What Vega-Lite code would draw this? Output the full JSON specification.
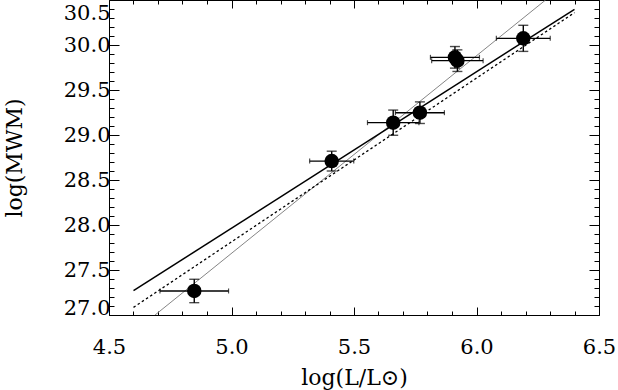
{
  "$schema": "https://vega.github.io/schema/vega-lite/v6.json",
  "width": 490,
  "height": 315,
  "autosize": "none",
  "padding": {"left": 109, "top": 0, "right": 19, "bottom": 75},
  "background": "white",
  "config": {
    "view": {"stroke": null},
    "axis": {
      "labelFont": "DejaVu Serif",
      "titleFont": "DejaVu Serif",
      "labelColor": "black",
      "titleColor": "black",
      "domainColor": "black",
      "domainWidth": 1,
      "tickColor": "black",
      "tickWidth": 1,
      "grid": false,
      "titleFontWeight": "normal",
      "labelFontSize": 21,
      "titleFontSize": 22,
      "labelOverlap": false
    }
  },
  "datasets": {
    "pts": [
      {"x": 4.848, "y": 27.267, "xlo": 4.708, "xhi": 4.988, "ylo": 27.137, "yhi": 27.397},
      {"x": 5.409, "y": 28.71, "xlo": 5.319, "xhi": 5.499, "ylo": 28.6, "yhi": 28.82},
      {"x": 5.66, "y": 29.137, "xlo": 5.555, "xhi": 5.765, "ylo": 28.997, "yhi": 29.277},
      {"x": 5.769, "y": 29.248, "xlo": 5.669, "xhi": 5.869, "ylo": 29.128, "yhi": 29.368},
      {"x": 5.912, "y": 29.863, "xlo": 5.812, "xhi": 6.012, "ylo": 29.743, "yhi": 29.983},
      {"x": 5.922, "y": 29.826, "xlo": 5.817, "xhi": 6.027, "ylo": 29.706, "yhi": 29.946},
      {"x": 6.191, "y": 30.074, "xlo": 6.081, "xhi": 6.301, "ylo": 29.929, "yhi": 30.219}
    ],
    "fits": [
      {"fit": "solid", "x": 4.6, "y": 27.27},
      {"fit": "solid", "x": 6.4, "y": 30.397},
      {"fit": "dotted", "x": 4.6, "y": 27.085},
      {"fit": "dotted", "x": 6.4, "y": 30.36},
      {"fit": "thin", "x": 4.688, "y": 27.0},
      {"fit": "thin", "x": 6.282, "y": 30.5}
    ]
  },
  "layer": [
    {
      "data": {"name": "fits"},
      "transform": [{"filter": "datum.fit === 'thin'"}],
      "mark": {"type": "line", "color": "#777777", "strokeWidth": 0.9, "clip": true},
      "encoding": {
        "x": {"field": "x", "type": "quantitative", "scale": {"domain": [4.5, 6.5], "nice": false, "zero": false}, "axis": null},
        "y": {"field": "y", "type": "quantitative", "scale": {"domain": [27.0, 30.5], "nice": false, "zero": false}, "axis": null}
      }
    },
    {
      "data": {"name": "fits"},
      "transform": [{"filter": "datum.fit === 'dotted'"}],
      "mark": {"type": "line", "color": "black", "strokeWidth": 1.3, "strokeDash": [2.5, 2.5], "clip": true},
      "encoding": {
        "x": {"field": "x", "type": "quantitative", "axis": null},
        "y": {"field": "y", "type": "quantitative", "axis": null}
      }
    },
    {
      "data": {"name": "fits"},
      "transform": [{"filter": "datum.fit === 'solid'"}],
      "mark": {"type": "line", "color": "black", "strokeWidth": 1.5, "clip": true},
      "encoding": {
        "x": {
          "field": "x", "type": "quantitative",
          "axis": {
            "orient": "top",
            "values": [4.5,4.6,4.7,4.8,4.9,5.0,5.1,5.2,5.3,5.4,5.5,5.6,5.7,5.8,5.9,6.0,6.1,6.2,6.3,6.4,6.5],
            "labels": false,
            "title": null,
            "tickSize": {"condition": {"test": "abs(datum.value*2 - round(datum.value*2)) < 0.01", "value": -8}, "value": -4}
          }
        },
        "y": {
          "field": "y", "type": "quantitative",
          "axis": {
            "orient": "right",
            "values": [27.0,27.1,27.2,27.3,27.4,27.5,27.6,27.7,27.8,27.9,28.0,28.1,28.2,28.3,28.4,28.5,28.6,28.7,28.8,28.9,29.0,29.1,29.2,29.3,29.4,29.5,29.6,29.7,29.8,29.9,30.0,30.1,30.2,30.3,30.4,30.5],
            "labels": false,
            "title": null,
            "tickSize": {"condition": {"test": "abs(datum.value*2 - round(datum.value*2)) < 0.01", "value": -10}, "value": -5}
          }
        }
      }
    },
    {
      "data": {"name": "pts"},
      "mark": {"type": "errorbar", "color": "black", "thickness": 1.4, "ticks": {"size": 5, "thickness": 1.2}},
      "encoding": {
        "y": {"field": "y", "type": "quantitative", "axis": null},
        "x": {"field": "xlo", "type": "quantitative", "axis": null},
        "x2": {"field": "xhi"}
      }
    },
    {
      "data": {"name": "pts"},
      "mark": {"type": "errorbar", "color": "black", "thickness": 1.4, "ticks": {"size": 10, "thickness": 1.4}},
      "encoding": {
        "x": {"field": "x", "type": "quantitative", "axis": null},
        "y": {"field": "ylo", "type": "quantitative", "axis": null},
        "y2": {"field": "yhi"}
      }
    },
    {
      "data": {"name": "pts"},
      "mark": {"type": "point", "filled": true, "color": "black", "opacity": 1, "size": 210, "shape": "circle"},
      "encoding": {
        "x": {
          "field": "x", "type": "quantitative",
          "axis": {
            "orient": "bottom",
            "values": [4.5,4.6,4.7,4.8,4.9,5.0,5.1,5.2,5.3,5.4,5.5,5.6,5.7,5.8,5.9,6.0,6.1,6.2,6.3,6.4,6.5],
            "labelExpr": "abs(datum.value*2 - round(datum.value*2)) < 0.01 ? format(datum.value, '.1f') : ''",
            "tickSize": {"condition": {"test": "abs(datum.value*2 - round(datum.value*2)) < 0.01", "value": -8}, "value": -4},
            "labelPadding": 29,
            "labelFlush": false,
            "title": "log(L/L⊙)",
            "titlePadding": 6
          }
        },
        "y": {
          "field": "y", "type": "quantitative",
          "axis": {
            "orient": "left",
            "values": [27.0,27.1,27.2,27.3,27.4,27.5,27.6,27.7,27.8,27.9,28.0,28.1,28.2,28.3,28.4,28.5,28.6,28.7,28.8,28.9,29.0,29.1,29.2,29.3,29.4,29.5,29.6,29.7,29.8,29.9,30.0,30.1,30.2,30.3,30.4,30.5],
            "labelExpr": "abs(datum.value*2 - round(datum.value*2)) < 0.01 ? format(datum.value, '.1f') : ''",
            "tickSize": {"condition": {"test": "abs(datum.value*2 - round(datum.value*2)) < 0.01", "value": -10}, "value": -5},
            "labelPadding": 9,
            "labelFlush": true,
            "labelFlushOffset": 3,
            "labelOffset": {"condition": {"test": "datum.value > 30.45", "value": 5}, "value": 0},
            "title": "log(MWM)",
            "titlePadding": 37
          }
        }
      }
    }
  ],
  "resolve": {"axis": {"x": "independent", "y": "independent"}}
}
